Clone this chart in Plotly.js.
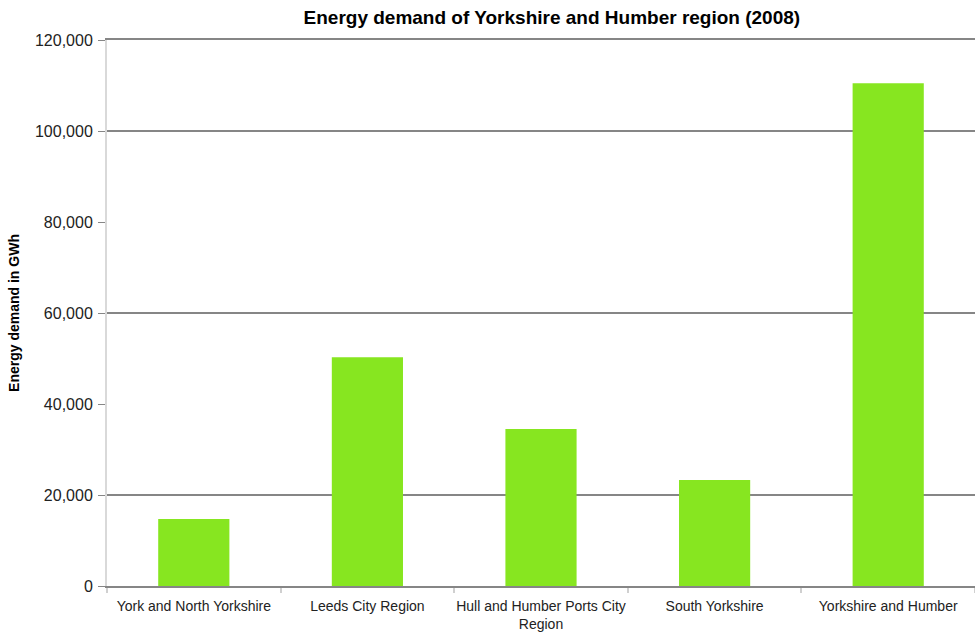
<!DOCTYPE html>
<html>
<head>
<meta charset="utf-8">
<script src="https://cdn.plot.ly/plotly-3.0.1.min.js"></script>
<style>
  html, body { margin: 0; padding: 0; background: #fff; }
  #plot { width: 975px; height: 632px; }
</style>
</head>
<body>
<div id="plot"></div>
<script>
const regions = [
    'York and North Yorkshire',
    'Leeds City Region',
    'Hull and Humber Ports City<br>Region',
    'South Yorkshire',
    'Yorkshire and Humber'
];
const demandGWh = [14700, 50300, 34500, 23300, 110500];

const yTicks = [0, 20000, 40000, 60000, 80000, 100000, 120000];
// only these gridlines show up in the source picture (top one is the mirrored x line)
const gridTicks = [20000, 60000, 100000];

const FONT = 'Liberation Sans, Arial, sans-serif';

let bars = {
    name: 'Energy demand',
    x: regions,
    y: demandGWh,
    type: 'bar',
    width: 0.41,
    marker: { color: '#87e620', line: { width: 0 } },
    hoverinfo: 'x+y'
};

// invisible helper trace so the grid axis gets drawn
let gridHelper = {
    x: [regions[0]],
    y: [0],
    yaxis: 'y2',
    type: 'scatter',
    mode: 'markers',
    marker: { opacity: 0 },
    hoverinfo: 'skip',
    showlegend: false
};

let layout = {
    width: 975,
    height: 632,
    margin: { l: 107, r: 0, t: 40, b: 46 },
    paper_bgcolor: '#ffffff',
    plot_bgcolor: '#ffffff',
    showlegend: false,
    font: { family: FONT, color: '#222222' },
    title: {
        text: '<b>Energy demand of Yorkshire and Humber region (2008)</b>',
        font: { family: FONT, size: 19, color: '#000000' },
        xref: 'container',
        yref: 'container',
        x: 0.566,
        xanchor: 'center',
        y: 0.972,
        yanchor: 'middle'
    },
    xaxis: {
        type: 'category',
        tickson: 'boundaries',
        tickangle: 0,
        ticks: 'outside',
        ticklen: 5,
        tickwidth: 2,
        tickcolor: '#d0d0d0',
        ticklabelstandoff: 6,
        showline: true,
        mirror: true,
        linecolor: '#868686',
        linewidth: 2,
        showgrid: false,
        tickfont: { family: FONT, size: 14, color: '#222222' }
    },
    yaxis: {
        range: [0, 120000],
        tickvals: yTicks,
        tickformat: ',d',
        ticks: 'outside',
        ticklen: 7,
        tickcolor: '#868686',
        ticklabelstandoff: 2,
        showline: true,
        linecolor: '#d9d9d9',
        linewidth: 2,
        showgrid: false,
        zeroline: false,
        tickfont: { family: FONT, size: 16, color: '#222222' },
        title: {
            text: '<b>Energy demand in GWh</b>',
            font: { family: FONT, size: 14, color: '#000000' },
            standoff: 12
        }
    },
    yaxis2: {
        overlaying: 'y',
        range: [0, 120000],
        tickvals: gridTicks,
        showticklabels: false,
        showgrid: true,
        gridcolor: '#868686',
        gridwidth: 1.5,
        zeroline: false,
        showline: false,
        ticks: ''
    }
};

Plotly.newPlot(document.getElementById('plot'), [gridHelper, bars], layout, { displayModeBar: false });
</script>
</body>
</html>
